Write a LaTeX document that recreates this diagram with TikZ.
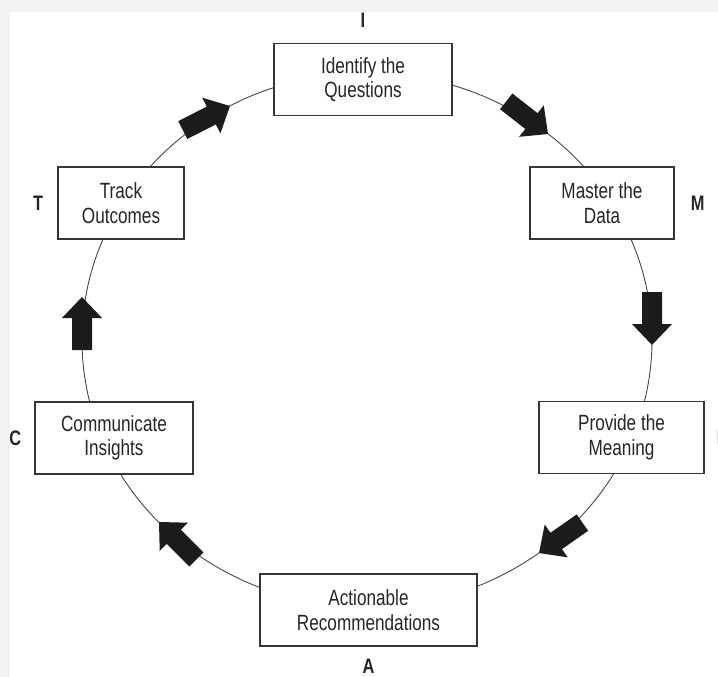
\documentclass[tikz,border=0pt]{standalone}
\usepackage{fontspec}
\setmainfont{Liberation Sans}[FakeStretch=0.78]
\usetikzlibrary{positioning}

\definecolor{bgc}{HTML}{F2F2F2}
\definecolor{textc}{HTML}{262626}
\definecolor{linec}{HTML}{363636}
\definecolor{circc}{HTML}{474747}
\definecolor{arrc}{HTML}{1C1C1C}

\tikzset{
	box/.style={draw=linec, line width=1.3pt, fill=white, text=textc, align=center,
		inner sep=0pt, minimum height=72pt, font=\fontsize{22}{24.5}\selectfont},
	lab/.style={text=textc, inner sep=0pt, font=\fontsize{21}{21}\selectfont\bfseries}
}

\begin{document}
\begin{tikzpicture}[x=1pt, y=-1pt]
	\useasboundingbox (0, 0) rectangle (718, 677);
	\fill[bgc] (0, 0) rectangle (718, 677);
	\fill[white] (10, 12) rectangle (718, 677);

	\draw[circc, line width=0.9pt] (367, 340) ellipse [x radius=285pt, y radius=267pt];

	\node[box, minimum width=178pt] (iden) at (363, 79.5) {Identify the\\Questions};
	\node[box, minimum width=144pt] (mast) at (602, 203) {Master the\\Data};
	\node[box, minimum width=165pt] (prov) at (621.5, 437.5) {Provide the\\Meaning};
	\node[box, minimum width=217pt] (acti) at (368.5, 610) {Actionable\\Recommendations};
	\node[box, minimum width=158pt] (comm) at (114, 438) {Communicate\\Insights};
	\node[box, minimum width=126pt] (trac) at (121, 203) {Track\\Outcomes};

	\node[lab, above=15pt of iden] (li) {I};
	\node[lab, right=16pt of mast] (lm) {M};
	\node[lab, right=12pt of prov] (lp) {P};
	\node[lab, below=12pt of acti] (la) {A};
	\node[lab, left=13pt of comm] (lc) {C};
	\node[lab, left=14pt of trac] (lt) {T};

	\foreach \x/\y/\r in {230/106/27, 548/134/-38, 652/345/-90, 539/553/-145, 159/522/135, 82/297/90} {
		\fill[arrc, shift={(\x, \y)}, rotate=\r] (0, 0) -- (-21, 20) -- (-21, 10) -- (-53, 10)
			-- (-53, -10) -- (-21, -10) -- (-21, -20) -- cycle;
	}
\end{tikzpicture}
\end{document}
